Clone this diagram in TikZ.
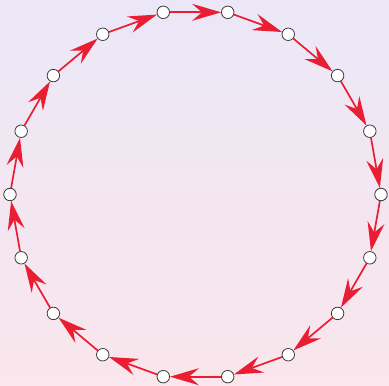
\documentclass[tikz,border=0pt]{standalone}
\usetikzlibrary{arrows.meta}
\definecolor{bgtop}{RGB}{235,231,247}
\definecolor{bgbot}{RGB}{250,230,236}
\definecolor{arrred}{RGB}{234,30,50}
\definecolor{ringgray}{RGB}{60,60,60}
\tikzset{
  ringnode/.style={circle,draw=ringgray,fill=white,line width=0.8pt,minimum size=12.5pt,inner sep=0pt},
  ringarrow/.style={draw=arrred,line width=1.7pt,-{Stealth[length=29pt,width=17pt,inset=10pt]}}
}
\begin{document}
\begin{tikzpicture}[x=1pt,y=-1pt]
\shade[top color=bgtop,bottom color=bgbot] (0,0) rectangle (389,386);
\useasboundingbox (0,0) rectangle (389,386);
\foreach \i/\ang in {0/100,1/80,2/60,3/40,4/20,5/0,6/-20,7/-40,8/-60,9/-80,10/-100,11/-120,12/-140,13/-160,14/-180,15/-200,16/-220,17/-240}{
  \node[ringnode] (n\i) at ({195.5+185.5*cos(\ang)},{194.5-185*sin(\ang)}) {};
}
\foreach \i/\j in {0/1,1/2,2/3,3/4,4/5,5/6,6/7,7/8,8/9,9/10,10/11,11/12,12/13,13/14,14/15,15/16,16/17,17/0}{
  \draw[ringarrow] (n\i) -- (n\j);
}
\end{tikzpicture}
\end{document}
